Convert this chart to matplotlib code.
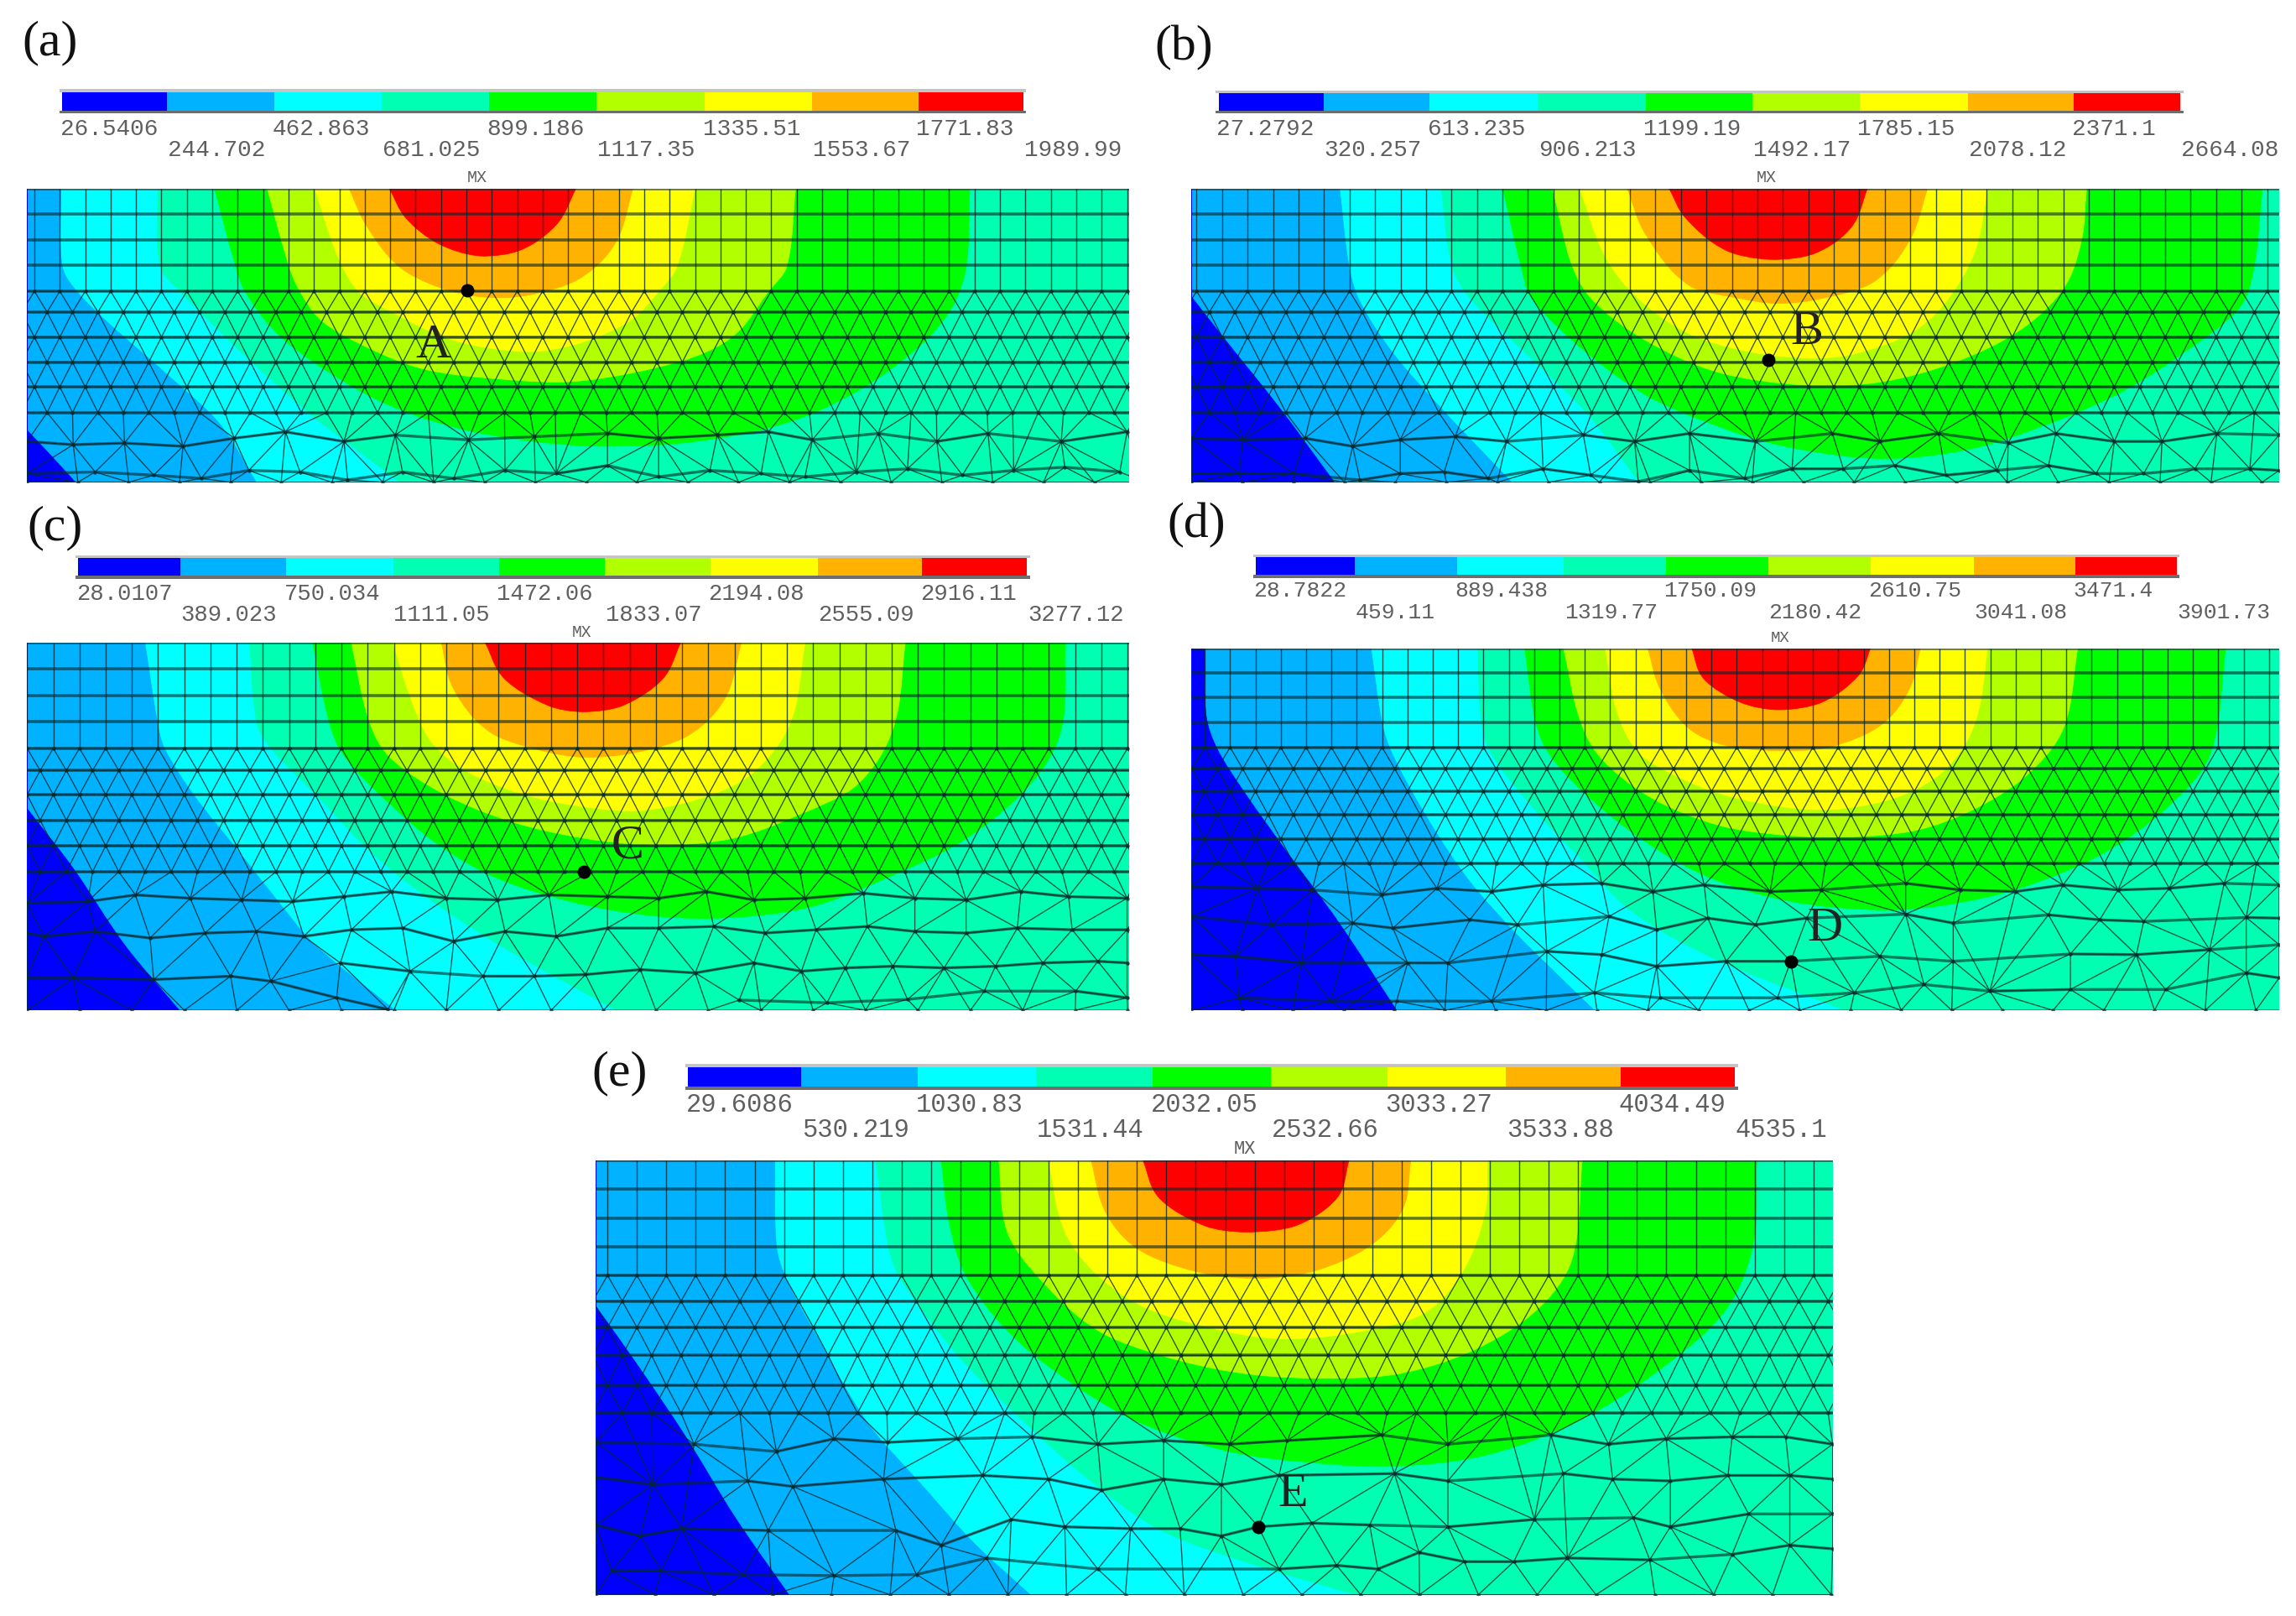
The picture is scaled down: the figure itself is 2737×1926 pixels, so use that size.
"""Five FE temperature contour panels (a)-(e) with their discrete colour bars."""
import matplotlib

matplotlib.use("Agg")
import matplotlib.pyplot as plt
import matplotlib.tri as mtri
import numpy as np
from matplotlib.patches import PathPatch, Rectangle
from matplotlib.path import Path

FIG_W, FIG_H = 2737, 1926
FRAME = 1568  # every panel is laid out in a 1568x1568 reading frame over its crop

LEVEL_COLORS = ["#0000ff", "#00b2ff", "#00ffff", "#00ffb2", "#00ff00",
                "#b2ff00", "#ffff00", "#ffb200", "#ff0000"]

# ---- panel (a) ----
A_LOW = ["26.5406", "462.863", "899.186", "1335.51", "1771.83"]
A_HIGH = ["244.702", "681.025", "1117.35", "1553.67", "1989.99"]
A_EDGES = [85, 228, 375, 522, 668, 815, 963, 1110, 1255, 1398]
A_DEEP = [(37, 1340), (70, 1420), (103, 1502)]
A_BLUE = [(83, 587), (85, 830), (105, 908), (150, 1010), (230, 1170), (300, 1320), (350, 1502)]
A_CYAN = [(215, 587), (218, 830), (245, 908), (330, 1100), (420, 1285), (480, 1390), (545, 1502)]
A_GREEN = [(293, 587), (322, 830), (335, 908), (375, 1030), (430, 1130), (520, 1250), (620, 1330),
           (730, 1375), (830, 1390), (950, 1375), (1070, 1320), (1170, 1220), (1255, 1080),
           (1300, 960), (1320, 830), (1325, 587)]
A_LIME = [(365, 587), (395, 830), (410, 908), (440, 1000), (500, 1080), (580, 1150), (680, 1180),
          (790, 1187), (930, 1125), (1000, 1050), (1050, 908), (1075, 830), (1087, 587)]
A_YELLOW = [(430, 587), (460, 790), (490, 908), (530, 965), (620, 1060), (720, 1095), (790, 1070),
            (860, 1000), (900, 908), (925, 830), (950, 587)]
A_ORANGE = [(477, 587), (500, 700), (545, 830), (600, 895), (660, 925), (720, 920), (790, 870),
            (840, 760), (865, 587)]
A_RED = [(532, 587), (555, 680), (600, 760), (655, 797), (710, 780), (760, 700), (787, 587)]
A_ROW_1365 = [(37, 1375), (100, 1385), (170, 1380), (250, 1390), (320, 1365), (390, 1345), (470, 1375),
              (540, 1355), (640, 1370), (730, 1360), (830, 1350), (900, 1365), (980, 1355), (1050, 1345),
              (1110, 1370), (1200, 1350), (1280, 1375), (1350, 1350), (1450, 1375), (1540, 1345)]
A_ROW_1465 = [(37, 1475), (130, 1470), (210, 1480), (275, 1490), (340, 1465), (410, 1470), (475, 1495),
              (550, 1470), (620, 1490), (690, 1465), (760, 1475), (830, 1450), (900, 1485), (970, 1465),
              (1040, 1475), (1100, 1485), (1170, 1470), (1240, 1460), (1315, 1480), (1385, 1465),
              (1455, 1455), (1530, 1470)]

# ---- panel (b) ----
B_LOW = ["27.2792", "613.235", "1199.19", "1785.15", "2371.1"]
B_HIGH = ["320.257", "906.213", "1492.17", "2078.12", "2664.08"]
B_EDGES = [97, 240, 385, 533, 680, 826, 972, 1120, 1265, 1410]
B_DEEP = [(60, 925), (110, 1070), (180, 1270), (255, 1502)]
B_BLUE = [(262, 587), (275, 830), (290, 940), (335, 1100), (400, 1270), (450, 1390), (497, 1502)]
B_CYAN = [(400, 587), (415, 830), (440, 930), (520, 1110), (600, 1290), (670, 1502)]
B_GREEN = [(485, 587), (510, 830), (525, 930), (590, 1080), (680, 1230), (770, 1320), (870, 1390),
           (1000, 1428), (1120, 1400), (1230, 1320), (1330, 1220), (1420, 1090), (1490, 960),
           (1510, 840), (1522, 587)]
B_LIME = [(553, 587), (580, 830), (610, 940), (680, 1060), (780, 1160), (900, 1200), (1000, 1190),
          (1100, 1130), (1190, 1030), (1250, 900), (1275, 750), (1282, 587)]
B_YELLOW = [(590, 587), (625, 800), (670, 930), (740, 1040), (820, 1095), (900, 1115), (960, 1105),
            (1040, 1040), (1090, 940), (1130, 780), (1147, 587)]
B_ORANGE = [(655, 587), (680, 730), (740, 890), (810, 930), (860, 945), (920, 930), (990, 880),
            (1040, 750), (1065, 587)]
B_RED = [(712, 587), (735, 680), (790, 780), (850, 808), (910, 790), (960, 710), (983, 587)]
B_ROW_1365 = [(60, 1365), (130, 1370), (215, 1365), (280, 1390), (345, 1370), (420, 1360), (490, 1375),
              (595, 1355), (665, 1375), (740, 1350), (830, 1375), (935, 1350), (1000, 1375), (1080, 1350),
              (1175, 1380), (1240, 1350), (1320, 1375), (1385, 1375), (1460, 1350), (1545, 1355)]
B_ROW_1465 = [(60, 1475), (125, 1475), (200, 1475), (290, 1495), (345, 1475), (405, 1470), (465, 1490),
              (540, 1460), (605, 1480), (670, 1500), (740, 1465), (815, 1490), (880, 1460), (950, 1460),
              (1020, 1450), (1090, 1480), (1160, 1465), (1230, 1450), (1295, 1475), (1360, 1475),
              (1430, 1460), (1505, 1460), (1545, 1465)]

# ---- panel (c) ----
C_LOW = ["28.0107", "750.034", "1472.06", "2194.08", "2916.11"]
C_HIGH = ["389.023", "1111.05", "1833.07", "2555.09", "3277.12"]
C_EDGES = [107, 246, 391, 537, 682, 826, 971, 1117, 1260, 1403]
C_DEEP = [(37, 920), (100, 1100), (170, 1330), (245, 1528)]
C_BLUE = [(198, 420), (215, 660), (225, 740), (265, 880), (330, 1060), (380, 1200), (430, 1330), (540, 1528)]
C_CYAN = [(340, 420), (350, 660), (370, 740), (440, 900), (510, 1060), (590, 1200), (680, 1330), (840, 1528)]
C_GREEN = [(427, 420), (450, 660), (470, 760), (530, 900), (600, 1030), (680, 1130), (780, 1200),
           (880, 1240), (980, 1250), (1100, 1220), (1210, 1130), (1320, 1010), (1410, 840),
           (1450, 680), (1456, 420)]
C_LIME = [(480, 420), (505, 660), (535, 770), (610, 880), (700, 960), (800, 1010), (900, 1030),
          (1000, 1010), (1090, 940), (1170, 850), (1220, 680), (1237, 420)]
C_YELLOW = [(537, 420), (560, 580), (590, 720), (640, 810), (720, 880), (810, 918), (880, 925),
            (970, 880), (1030, 810), (1080, 660), (1100, 420)]
C_ORANGE = [(603, 420), (620, 560), (670, 690), (740, 745), (800, 765), (870, 750), (940, 700),
            (990, 590), (1013, 420)]
C_RED = [(663, 420), (690, 530), (750, 610), (797, 628), (850, 610), (905, 530), (930, 420)]
C_ROW_1195 = [(37, 1205), (120, 1200), (185, 1180), (260, 1190), (330, 1195), (400, 1200), (470, 1185),
              (535, 1170), (610, 1190), (680, 1195), (750, 1180), (830, 1185), (900, 1190), (965, 1170),
              (1030, 1195), (1100, 1190), (1180, 1175), (1250, 1190), (1320, 1195), (1395, 1170),
              (1460, 1185), (1540, 1190)]
C_ROW_1295 = [(37, 1295), (60, 1305), (130, 1290), (205, 1310), (280, 1295), (350, 1290), (415, 1305),
              (480, 1285), (550, 1280), (620, 1320), (690, 1290), (760, 1305), (830, 1280), (900, 1280),
              (975, 1275), (1045, 1295), (1115, 1285), (1185, 1275), (1250, 1290), (1320, 1295),
              (1390, 1280), (1465, 1285), (1540, 1285)]
C_ROW_1410 = [(37, 1430), (100, 1430), (210, 1435), (315, 1425), (370, 1440), (460, 1490), (530, 1525)]
C_ROW_1420 = [(465, 1385), (560, 1410), (660, 1425), (730, 1425), (800, 1420), (875, 1405), (950, 1415),
              (1030, 1385), (1095, 1410), (1155, 1400), (1220, 1395), (1290, 1400), (1360, 1395),
              (1425, 1385), (1500, 1380), (1540, 1385)]
C_ROW_1490 = [(1010, 1497), (1130, 1505), (1240, 1495), (1345, 1470), (1470, 1470), (1540, 1490)]

# ---- panel (d) ----
D_LOW = ["28.7822", "889.438", "1750.09", "2610.75", "3471.4"]
D_HIGH = ["459.11", "1319.77", "2180.42", "3041.08", "3901.73"]
D_EDGES = [148, 283, 423, 568, 708, 847, 987, 1128, 1267, 1405]
D_DEEP = [(78, 437), (80, 640), (95, 740), (135, 880), (190, 1050), (260, 1260), (340, 1528)]
D_BLUE = [(305, 437), (320, 660), (335, 760), (385, 960), (440, 1140), (500, 1290), (550, 1400), (610, 1528)]
D_CYAN = [(450, 437), (455, 660), (470, 760), (530, 930), (590, 1070), (660, 1230), (770, 1370), (950, 1528)]
D_GREEN = [(515, 437), (530, 660), (550, 760), (600, 880), (680, 1020), (770, 1130), (880, 1200),
           (1000, 1225), (1090, 1210), (1190, 1160), (1300, 1060), (1390, 920), (1450, 760), (1472, 437)]
D_LIME = [(568, 437), (590, 650), (620, 770), (690, 890), (780, 970), (870, 1000), (960, 1005),
          (1050, 985), (1130, 920), (1200, 820), (1250, 680), (1270, 437)]
D_YELLOW = [(625, 437), (640, 620), (670, 750), (720, 820), (790, 880), (880, 918), (950, 920),
            (1030, 880), (1090, 800), (1130, 660), (1147, 437)]
D_ORANGE = [(683, 437), (700, 560), (740, 680), (790, 730), (860, 745), (930, 735), (1000, 670),
            (1040, 560), (1055, 437)]
D_RED = [(743, 437), (760, 530), (810, 600), (862, 622), (920, 600), (970, 520), (987, 437)]
D_ROW_1160 = [(60, 1155), (150, 1160), (225, 1165), (320, 1180), (395, 1160), (470, 1170), (540, 1150),
              (620, 1145), (690, 1170), (760, 1150), (850, 1170), (920, 1165), (1035, 1145), (1110, 1165),
              (1185, 1170), (1250, 1150), (1325, 1165), (1395, 1160), (1470, 1145), (1545, 1150)]
D_ROW_1250 = [(60, 1245), (170, 1270), (280, 1265), (335, 1280), (440, 1255), (505, 1270), (630, 1245),
              (695, 1285), (765, 1250), (830, 1270), (900, 1250), (1035, 1238), (1100, 1265), (1230, 1240),
              (1300, 1255), (1360, 1260), (1500, 1248), (1545, 1250)]
D_ROW_1370 = [(60, 1360), (120, 1365), (210, 1385), (355, 1385), (410, 1385), (545, 1350), (620, 1360),
              (695, 1395), (790, 1380), (878, 1380), (1000, 1365), (1100, 1380), (1260, 1358), (1350, 1360),
              (1450, 1345), (1545, 1330)]
D_ROW_1480 = [(125, 1490), (250, 1500), (340, 1500), (470, 1500), (610, 1475), (700, 1490), (860, 1490),
              (965, 1475), (1060, 1450), (1150, 1470), (1260, 1465), (1390, 1465), (1500, 1415), (1545, 1430)]

# ---- panel (e) ----
E_LOW = ["29.6086", "1030.83", "2032.05", "3033.27", "4034.49"]
E_HIGH = ["530.219", "1531.44", "2532.66", "3533.88", "4535.1"]
E_EDGES = [143, 280, 422, 565, 707, 850, 992, 1135, 1275, 1413]
E_DEEP = [(31, 725), (80, 880), (140, 1080), (200, 1300), (265, 1510)]
E_BLUE = [(248, 327), (250, 560), (262, 650), (300, 810), (360, 1040), (430, 1220), (490, 1370), (558, 1510)]
E_CYAN = [(370, 327), (385, 560), (400, 650), (470, 860), (550, 1040), (630, 1200), (720, 1340),
          (830, 1430), (950, 1510)]
E_GREEN = [(450, 327), (460, 500), (480, 640), (530, 790), (600, 920), (690, 1040), (800, 1120),
           (900, 1150), (1000, 1160), (1110, 1130), (1220, 1040), (1320, 900), (1400, 740),
           (1435, 560), (1440, 327)]
E_LIME = [(520, 327), (530, 520), (570, 650), (640, 790), (720, 860), (810, 905), (900, 920),
          (1000, 910), (1090, 850), (1170, 740), (1215, 600), (1228, 327)]
E_YELLOW = [(580, 327), (600, 520), (640, 640), (700, 730), (790, 790), (860, 812), (940, 800),
            (1030, 750), (1080, 640), (1110, 470), (1113, 327)]
E_ORANGE = [(632, 327), (650, 470), (690, 570), (760, 630), (830, 648), (900, 630), (970, 560),
            (1010, 460), (1020, 327)]
E_RED = [(695, 327), (715, 430), (770, 505), (820, 522), (880, 505), (930, 430), (945, 327)]
E_ROW_1100 = [(31, 1095), (150, 1100), (250, 1120), (320, 1085), (385, 1095), (470, 1085), (560, 1080),
              (640, 1100), (720, 1090), (800, 1100), (870, 1090), (985, 1075), (1065, 1100), (1190, 1075),
              (1260, 1100), (1330, 1085), (1410, 1080), (1475, 1080), (1532, 1100)]
E_ROW_1200 = [(31, 1190), (100, 1210), (215, 1200), (270, 1215), (380, 1195), (500, 1185), (580, 1195),
              (645, 1225), (720, 1195), (790, 1210), (860, 1185), (1000, 1180), (1065, 1200), (1205, 1180),
              (1265, 1195), (1335, 1200), (1405, 1185), (1480, 1185), (1532, 1195)]
E_ROW_1330 = [(31, 1320), (85, 1350), (135, 1330), (240, 1335), (395, 1335), (450, 1375), (535, 1305),
              (600, 1325), (680, 1330), (740, 1330), (790, 1350), (835, 1325), (900, 1315), (970, 1320),
              (1065, 1325), (1170, 1305), (1290, 1300), (1335, 1325), (1430, 1290), (1532, 1290)]
E_ROW_1440 = [(50, 1445), (110, 1445), (210, 1455), (320, 1458), (420, 1455), (505, 1410), (640, 1440),
              (860, 1440), (930, 1430), (980, 1440), (1030, 1395), (1085, 1420), (1145, 1420), (1210, 1410),
              (1310, 1415), (1410, 1400), (1480, 1375), (1532, 1385)]

PANELS = [
    dict(crop=(0, 0, 1368, 600), box=(37, 1543, 587, 1502), tag="(a)", tag_at=(68, 134),
         low=A_LOW, high=A_HIGH, edges=A_EDGES, bar_y=(287, 345), low_y=403, high_y=468, bar_font=20,
         regions=(A_DEEP, A_BLUE, A_CYAN, A_GREEN, A_LIME, A_YELLOW, A_ORANGE, A_RED),
         mx_at=(652, 552), point="A", point_at=(638, 905), letter_at=(592, 1076),
         col0=47, col_dx=34.72, rect_rows=[587, 667, 747, 827, 907], tri_rows=[972, 1050, 1128, 1205, 1285],
         rough_rows=[A_ROW_1365, A_ROW_1465]),
    dict(crop=(1368, 0, 1369, 600), box=(60, 1545, 587, 1502), tag="(b)", tag_at=(50, 149),
         low=B_LOW, high=B_HIGH, edges=B_EDGES, bar_y=(290, 345), low_y=403, high_y=467, bar_font=20,
         regions=(B_DEEP, B_BLUE, B_CYAN, B_GREEN, B_LIME, B_YELLOW, B_ORANGE, B_RED),
         mx_at=(845, 552), point="B", point_at=(848, 1120), letter_at=(900, 1036),
         col0=67, col_dx=34.8, rect_rows=[587, 667, 747, 827, 907], tri_rows=[972, 1050, 1128, 1205, 1285],
         rough_rows=[B_ROW_1365, B_ROW_1465]),
    dict(crop=(0, 600, 1368, 620), box=(37, 1543, 420, 1528), tag="(c)", tag_at=(75, 73),
         low=C_LOW, high=C_HIGH, edges=C_EDGES, bar_y=(165, 218), low_y=272, high_y=336, bar_font=19.6,
         regions=(C_DEEP, C_BLUE, C_CYAN, C_GREEN, C_LIME, C_YELLOW, C_ORANGE, C_RED),
         mx_at=(795, 388), point="C", point_at=(798, 1110), letter_at=(858, 1033),
         col0=37, col_dx=35.8, rect_rows=[420, 497, 578, 658, 738], tri_rows=[805, 878, 955, 1032, 1110],
         rough_rows=[C_ROW_1195, C_ROW_1295, C_ROW_1410, C_ROW_1420, C_ROW_1490]),
    dict(crop=(1368, 600, 1369, 620), box=(60, 1545, 437, 1528), tag="(d)", tag_at=(67, 66),
         low=D_LOW, high=D_HIGH, edges=D_EDGES, bar_y=(163, 215), low_y=264, high_y=328, bar_font=19,
         regions=(D_DEEP, D_BLUE, D_CYAN, D_GREEN, D_LIME, D_YELLOW, D_ORANGE, D_RED),
         mx_at=(864, 405), point="D", point_at=(878, 1380), letter_at=(925, 1283),
         col0=78, col_dx=34.6, rect_rows=[437, 510, 585, 660, 735], tri_rows=[800, 868, 938, 1012, 1085],
         rough_rows=[D_ROW_1160, D_ROW_1250, D_ROW_1370, D_ROW_1480]),
    dict(crop=(680, 1240, 1540, 686), box=(31, 1532, 327, 1510), tag="(e)", tag_at=(60, 90),
         low=E_LOW, high=E_HIGH, edges=E_EDGES, bar_y=(72, 125), low_y=175, high_y=245, bar_font=22,
         regions=(E_DEEP, E_BLUE, E_CYAN, E_GREEN, E_LIME, E_YELLOW, E_ORANGE, E_RED),
         mx_at=(818, 295), point="E", point_at=(835, 1325), letter_at=(877, 1237),
         col0=45, col_dx=35.7, rect_rows=[327, 404, 485, 563, 640], tri_rows=[710, 782, 858, 940, 1015],
         rough_rows=[E_ROW_1100, E_ROW_1200, E_ROW_1330, E_ROW_1440]),
]

MESH_COLOR = "#06282c"


def curve_path(points, corners):
    """Closed path: smooth curve through the read points, then straight through corners."""
    pts = np.asarray(points, dtype=float)
    chords = np.hypot(*np.diff(pts, axis=0).T)
    tangents = np.zeros_like(pts)
    tangents[0] = (pts[1] - pts[0]) / chords[0]
    tangents[-1] = (pts[-1] - pts[-2]) / chords[-1]
    for i in range(1, len(pts) - 1):
        tangents[i] = (pts[i + 1] - pts[i - 1]) / (chords[i - 1] + chords[i])
    verts, codes = [pts[0]], [Path.MOVETO]
    for i, chord in enumerate(chords):
        verts += [pts[i] + tangents[i] * chord / 3, pts[i + 1] - tangents[i + 1] * chord / 3, pts[i + 1]]
        codes += [Path.CURVE4] * 3
    for corner in corners:
        verts.append(corner)
        codes.append(Path.LINETO)
    verts.append(pts[0])
    codes.append(Path.CLOSEPOLY)
    return Path(verts, codes)


def draw_bar(ax, panel):
    edges = panel["edges"]
    top, bottom = panel["bar_y"]
    ax.add_patch(Rectangle((edges[0] - 4, top - 9), edges[-1] - edges[0] + 8, 9,
                           color="#c4c4c4", lw=0))
    ax.add_patch(Rectangle((edges[0] - 4, bottom), edges[-1] - edges[0] + 8, 9,
                           color="#6e6e6e", lw=0))
    for left, right, color in zip(edges[:-1], edges[1:], LEVEL_COLORS):
        ax.add_patch(Rectangle((left, top), right - left, bottom - top, color=color, lw=0))
    text_style = dict(family=["Liberation Mono", "DejaVu Sans Mono"], color="#5f5f5f",
                      fontsize=panel["bar_font"], ha="left", va="center")
    for x, label in zip(edges[0::2], panel["low"]):
        ax.text(x - 3, panel["low_y"], label, **text_style)
    for x, label in zip(edges[1::2], panel["high"]):
        ax.text(x + 1, panel["high_y"], label, **text_style)


def draw_regions(ax, panel, clip):
    x0, x1, y0, y1 = panel["box"]
    ax.add_patch(Rectangle((x0, y0), x1 - x0, y1 - y0, color=LEVEL_COLORS[3], lw=0))
    deep, blue, cyan, green, lime, yellow, orange, red = panel["regions"]
    left_corners = [(x0, y1), (x0, y0)]
    fills = [(cyan, LEVEL_COLORS[2], left_corners), (blue, LEVEL_COLORS[1], left_corners),
             (deep, LEVEL_COLORS[0], left_corners),
             (green, LEVEL_COLORS[4], []), (lime, LEVEL_COLORS[5], []), (yellow, LEVEL_COLORS[6], []),
             (orange, LEVEL_COLORS[7], []), (red, LEVEL_COLORS[8], [])]
    for points, color, corners in fills:
        patch = PathPatch(curve_path(points, corners), facecolor=color, edgecolor=color, lw=0.5)
        ax.add_patch(patch)
        patch.set_clip_path(clip)


def draw_mesh(ax, panel, clip, sx, sy):
    x0, x1, y0, y1 = panel["box"]
    dx = panel["col_dx"]
    rect_rows, tri_rows = panel["rect_rows"], panel["tri_rows"]
    columns = np.arange(panel["col0"] - 2 * dx, x1 + 2 * dx, dx)

    drawn = [ax.vlines(columns, rect_rows[0], rect_rows[-1], color=MESH_COLOR, lw=1.0, alpha=0.8),
             ax.hlines(rect_rows + tri_rows, x0, x1, color=MESH_COLOR, lw=2.6, alpha=0.62)]

    xs, ys = [], []
    for i, y in enumerate([rect_rows[-1]] + tri_rows):
        row_x = columns + (dx / 2 if i % 2 else 0)
        xs.extend(row_x)
        ys.extend([y] * len(row_x))
    for row in panel["rough_rows"]:
        row_x, row_y = zip(*row)
        xs.extend(row_x)
        ys.extend(row_y)
        line, = ax.plot(row_x, row_y, color=MESH_COLOR, lw=2.4, alpha=0.62)
        drawn.append(line)
    foot = np.arange(x0, x1 + 2 * dx, 2 * dx)
    xs.extend(foot)
    ys.extend([y1] * len(foot))

    # triangulate in pixel space, the reading frame is stretched differently per axis
    xs, ys = np.asarray(xs), np.asarray(ys)
    triangles = mtri.Triangulation(xs * sx, ys * sy).triangles
    grid = mtri.Triangulation(xs, ys, triangles)
    drawn.extend(ax.triplot(grid, color=MESH_COLOR, lw=0.95, alpha=0.8))
    nodes, = ax.plot(xs, ys, "o", color=MESH_COLOR, ms=3.2, alpha=0.75, mew=0)
    drawn.append(nodes)
    for artist in drawn:
        artist.set_clip_path(clip)


def draw_panel(fig, panel):
    left, top, width, height = panel["crop"]
    ax = fig.add_axes([left / FIG_W, 1 - (top + height) / FIG_H, width / FIG_W, height / FIG_H])
    ax.set_xlim(0, FRAME)
    ax.set_ylim(FRAME, 0)
    ax.axis("off")
    ax.patch.set_alpha(0)

    x0, x1, y0, y1 = panel["box"]
    clip = Rectangle((x0, y0), x1 - x0, y1 - y0, fill=False, lw=0, transform=ax.transData)
    ax.add_patch(clip)
    draw_regions(ax, panel, clip)
    draw_mesh(ax, panel, clip, width / FRAME, height / FRAME)
    draw_bar(ax, panel)

    serif = ["Liberation Serif", "DejaVu Serif"]
    ax.text(*panel["tag_at"], panel["tag"], family=serif, fontsize=43, color="#111111",
            ha="center", va="center")
    ax.text(*panel["letter_at"], panel["point"], family=serif, fontsize=42, color="#222222",
            ha="center", va="center")
    ax.plot(*panel["point_at"], "o", color="black", ms=11.5, mew=0)
    ax.text(*panel["mx_at"], "MX", family=["Liberation Mono", "DejaVu Sans Mono"],
            fontsize=panel["bar_font"] * 0.72, color="#5f5f5f", ha="center", va="center")
    return ax


def main():
    fig = plt.figure(figsize=(FIG_W / 100, FIG_H / 100), dpi=100, facecolor="white")
    for panel in PANELS:
        draw_panel(fig, panel)
    fig.savefig("out.png", dpi=100)
    plt.close(fig)


if __name__ == "__main__":
    main()
